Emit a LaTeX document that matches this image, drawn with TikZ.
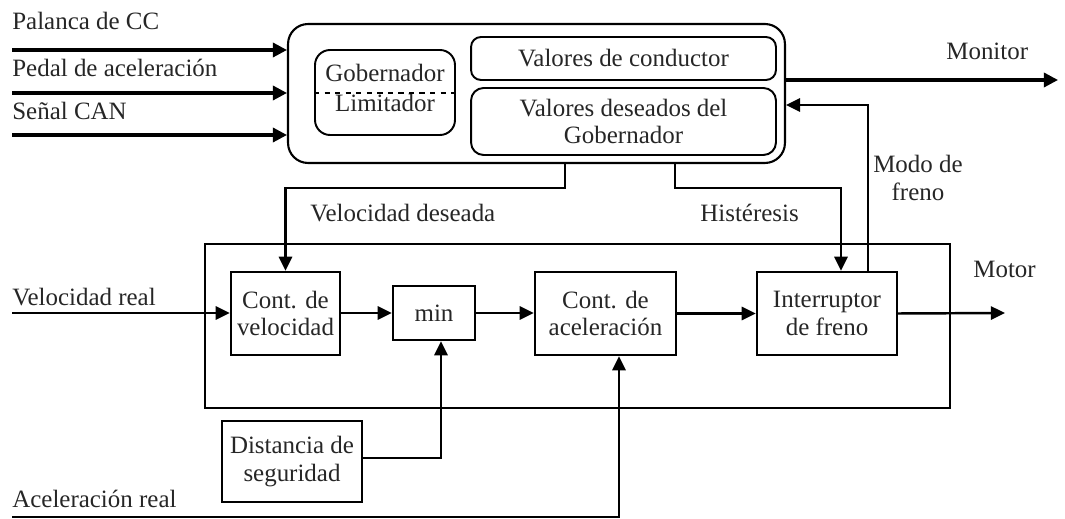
\documentclass[tikz,border=0pt]{standalone}
\usepackage{fontspec}
\setmainfont{Liberation Serif}
\usetikzlibrary{arrows.meta}
\begin{document}
\begin{tikzpicture}[x=0.02cm,y=-0.02cm,
  every node/.style={font=\fontsize{14.2}{15.5}\selectfont, text=black!85, inner sep=0pt},
  blk/.style={draw, line width=1.4pt, align=center},
  rbox/.style={draw, line width=1.1pt, align=center},
  arr/.style={line width=1.4pt, -{Triangle[length=8pt,width=7.5pt]}},
  inarr/.style={line width=1.8pt, -{Triangle[length=8pt,width=8pt]}},
  lbl/.style={anchor=base west}
]
\useasboundingbox (0,0) rectangle (1065,519);

% boxes
\node[blk, minimum width=14.9cm, minimum height=3.28cm] (motor) at (577.5,326) {};
\node[rbox, line width=1.2pt, rounded corners=0.4cm, minimum width=9.94cm, minimum height=2.78cm] (outer) at (536.5,93.5) {};
\node[rbox, rounded corners=0.3cm, minimum width=2.8cm, minimum height=1.7cm] (gob) at (385,92.5) {};
\node[rbox, rounded corners=0.2cm, minimum width=6.1cm, minimum height=0.86cm] (vc) at (623.5,58.5) {Valores de conductor};
\node[rbox, rounded corners=0.25cm, minimum width=6.1cm, minimum height=1.34cm] (vd) at (623.5,121.5) {Valores deseados del\\Gobernador};
\node[blk, minimum width=2.18cm, minimum height=1.66cm] (cv) at (285.5,313.5) {Cont. de\\velocidad};
\node[blk, minimum width=1.64cm, minimum height=1.08cm] (mn) at (434,313) {min};
\node[blk, minimum width=2.82cm, minimum height=1.66cm] (ca) at (605.5,313.5) {Cont. de\\aceleración};
\node[blk, minimum width=2.8cm, minimum height=1.66cm] (ib) at (827,313.5) {Interruptor\\de freno};
\node[blk, minimum width=2.8cm, minimum height=1.62cm] (ds) at (292,461.5) {Distancia de\\seguridad};

% governor texts
\node[anchor=base] (tgob) at (385,82) {Gobernador};
\node[anchor=base] (tlim) at (385,112) {Limitador};
\draw[dashed, line width=1.1pt] (gob.west |- 0,93) -- (gob.east |- 0,93);

% labels
\node[lbl] (l1) at (12,30) {Palanca de CC};
\node[lbl] (l2) at (12,77) {Pedal de aceleración};
\node[lbl] (l3) at (12,120) {Señal CAN};
\node[lbl] (lmon) at (946,60) {Monitor};
\node[lbl] (lvd) at (310,222) {Velocidad deseada};
\node[lbl] (lhi) at (700,222) {Histéresis};
\node[align=center] (lmf) at (918,178) {Modo de\\freno};
\node[lbl] (lvr) at (12,306) {Velocidad real};
\node[lbl] (lmo) at (973,278) {Motor};
\node[lbl] (lar) at (12,508) {Aceleración real};

% coordinates
\coordinate (p1) at (12,50);
\coordinate (p2) at (12,93);
\coordinate (p3) at (12,135);
\coordinate (mon) at (1058,80);
\coordinate (mf) at (868,105);
\coordinate (vdA) at (565,188);
\coordinate (hA) at (675,188);
\coordinate (hB) at (841,188);
\coordinate (vr) at (12,313);
\coordinate (mo) at (1005,313);
\coordinate (dsA) at (441,458);
\coordinate (ar) at (12,517);
\coordinate (arB) at (619,517);

% connectors
\draw[inarr] (p1) -- (p1 -| outer.west);
\draw[inarr] (p2) -- (p2 -| outer.west);
\draw[inarr] (p3) -- (p3 -| outer.west);
\draw[inarr] (mon -| outer.east) -- (mon);
\draw[arr] (ib.north -| mf) -- (mf) -- (mf -| outer.east);
\draw[arr] (outer.south -| vdA) -- (vdA) -| (cv.north);
\draw[arr] (outer.south -| hA) -- (hA) -- (hB) -- (ib.north -| hB);
\draw[arr] (vr) -- (vr -| cv.west);
\draw[arr] (cv.east |- mn) -- (mn.west);
\draw[arr] (mn.east) -- (mn -| ca.west);
\draw[arr] (ca.east) -- (ib.west);
\draw[arr] (ib.east) -- (mo);
\draw[arr] (ds.east |- dsA) -- (dsA) -- (dsA |- mn.south);
\draw[arr, line width=1.5pt] (ar) -- (arB) -- (arB |- ca.south);
\end{tikzpicture}
\end{document}
